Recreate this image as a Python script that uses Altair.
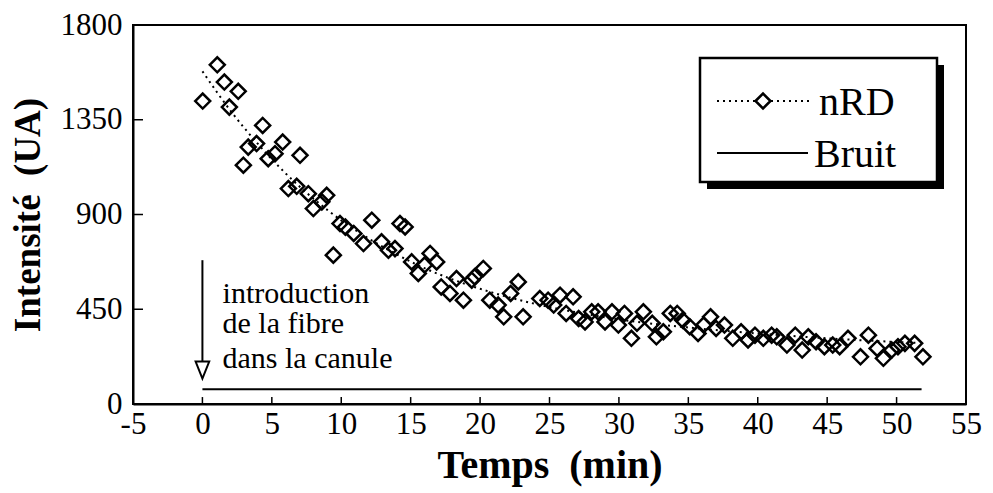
import altair as alt
import pandas as pd

# ---- data ----
time_nrd = [0.02, 1.07, 1.58, 1.94, 2.58, 2.95, 3.3, 3.9, 4.34, 4.74, 5.23, 5.78, 6.19, 6.79,
            7.03, 7.63, 7.99, 8.6, 8.95, 9.43, 9.91, 10.3, 10.9, 11.6, 12.2, 12.9, 13.4, 13.87,
            14.23, 14.6, 15.07, 15.55, 16.0, 16.4, 16.87, 17.2, 17.83, 18.3, 18.8, 19.4, 19.6,
            20.23, 20.7, 21.3, 21.7, 22.2, 22.75, 23.1, 24.3, 24.9, 25.3, 25.76, 26.2, 26.7,
            27.1, 27.56, 28.04, 28.5, 29.0, 29.5, 29.96, 30.4, 30.9, 31.3, 31.76, 32.4, 32.7,
            33.2, 33.7, 34.2, 34.6, 35.1, 35.7, 36.1, 36.6, 37.0, 37.6, 38.2, 38.8, 39.3, 39.8,
            40.4, 41.0, 41.37, 42.1, 42.7, 43.2, 43.64, 44.2, 44.8, 45.4, 45.9, 46.5, 47.4,
            47.97, 48.6, 49.05, 49.65, 50.1, 50.6, 51.3, 51.9]
intensity_nrd = [1439, 1611, 1529, 1410, 1485, 1134, 1220, 1237, 1323, 1165, 1189, 1244, 1023, 1034,
                 1181, 999, 928, 960, 991, 707, 857, 840, 810, 762, 873, 770, 730, 738,
                 857, 841, 675, 620, 660, 715, 675, 556, 525, 596, 493, 588, 604,
                 644, 493, 470, 414, 525, 580, 414, 501, 493, 470, 517, 430, 509,
                 406, 390, 438, 438, 390, 438, 375, 430, 312, 383, 438, 383, 319,
                 343, 430, 430, 398, 367, 335, 375, 414, 359, 375, 312, 343, 304, 327,
                 312, 327, 319, 280, 327, 256, 319, 296, 272, 280, 272, 312, 224,
                 327, 264, 217, 256, 272, 288, 288, 224]

fit_time = [0, 2, 4, 6, 8, 10, 12, 14, 16, 18, 20, 22, 24, 26, 28, 30, 33, 36, 40, 45, 51.5]
fit_intensity = [1580, 1395, 1235, 1095, 975, 872, 785, 710, 645, 592, 547, 508, 475, 447,
                 423, 402, 377, 357, 335, 312, 290]

bruit_time = [0, 51.8]
bruit_intensity = [70, 70]

x_ticks = [-5, 0, 5, 10, 15, 20, 25, 30, 35, 40, 45, 50, 55]
y_ticks = [0, 450, 900, 1350, 1800]

annotation_lines = ["introduction", "de la fibre", "dans la canule"]
annotation_y = [479, 337, 171]
annotation_x = 1.45
arrow_top = 683
arrow_end = 199
arrow_head = 161

legend_labels = ["nRD", "Bruit"]

SERIF = "Liberation Serif"
W, H = 833, 379

xs = alt.Scale(domain=[-5, 55], nice=False, zero=False)
ys = alt.Scale(domain=[0, 1800], nice=False, zero=False)

df_pts = pd.DataFrame({"t": time_nrd, "v": intensity_nrd})
df_fit = pd.DataFrame({"t": fit_time, "v": fit_intensity})
df_bruit = pd.DataFrame({"t": bruit_time, "v": bruit_intensity})

X = alt.X("t:Q", scale=xs,
          axis=alt.Axis(values=x_ticks, title="Temps \u00a0(min)", ticks=False, tickSize=0,
                        grid=False, labelPadding=5, domainWidth=2, domainColor="black",
                        titleX=W / 2, titleY=61, titleBaseline="middle", titleAnchor="middle",
                        titleFontSize=40, format="d",
                        labelExpr="replace(datum.label, '\u2212', '-')"))
Y = alt.Y("v:Q", scale=ys,
          axis=alt.Axis(values=y_ticks, title="Intensité \u00a0(UA)", ticks=False, tickSize=0,
                        grid=False, labelPadding=11, domainWidth=2, domainColor="black",
                        titleX=-105, titleY=H / 2, titleBaseline="middle", titleAngle=-90,
                        titleAnchor="middle", titleFontSize=37, format="d"))

fit = alt.Chart(df_fit).mark_line(color="black", strokeWidth=2, strokeDash=[2, 4],
                                  interpolate="monotone").encode(x=X, y=Y)
pts = alt.Chart(df_pts).mark_point(shape="diamond", size=225, filled=False, color="black",
                                   strokeWidth=2.5, opacity=1).encode(x="t:Q", y="v:Q")
bruit = alt.Chart(df_bruit).mark_line(color="black", strokeWidth=2).encode(x="t:Q", y="v:Q")

# inward ticks
df_xt = pd.DataFrame({"t": x_ticks[1:-1]})
xt = alt.Chart(df_xt).mark_rule(color="black", strokeWidth=1.5).encode(
    x="t:Q", y=alt.datum(0), y2=alt.datum(33))
df_yt = pd.DataFrame({"v": y_ticks[1:-1]})
yt = alt.Chart(df_yt).mark_rule(color="black", strokeWidth=1.5).encode(
    y="v:Q", x=alt.datum(-5), x2=alt.datum(-4.28))

# annotation arrow and text
df_arrow = pd.DataFrame({"t": [0], "a": [arrow_top], "b": [arrow_end], "h": [arrow_head]})
arrow_line = alt.Chart(df_arrow).mark_rule(color="black", strokeWidth=2).encode(
    x="t:Q", y="a:Q", y2="b:Q")
arrow_tip = alt.Chart(df_arrow).mark_point(shape="M-0.8,-1L0.8,-1L0,1Z", size=289,
                                           filled=True, fill="white", stroke="black",
                                           strokeWidth=2, opacity=1).encode(x="t:Q", y="h:Q")
df_ann = pd.DataFrame({"t": [annotation_x] * 3, "v": annotation_y, "s": annotation_lines})
ann = alt.Chart(df_ann).mark_text(font=SERIF, fontSize=30, align="left",
                                  baseline="alphabetic", color="black").encode(
    x="t:Q", y="v:Q", text="s:N")

# legend box (pixel positions within the plot)
one = pd.DataFrame({"k": [0]})
shadow = alt.Chart(one).mark_rect(color="black").encode(
    x=alt.value(574), x2=alt.value(811), y=alt.value(40), y2=alt.value(164))
box = alt.Chart(one).mark_rect(fill="white", stroke="black", strokeWidth=2.5).encode(
    x=alt.value(567), x2=alt.value(804), y=alt.value(33), y2=alt.value(157))
leg_dot = alt.Chart(one).mark_rule(color="black", strokeWidth=2, strokeDash=[2, 4]).encode(
    x=alt.value(584), x2=alt.value(679), y=alt.value(76))
leg_dia = alt.Chart(one).mark_point(shape="diamond", size=225, filled=True, fill="white",
                                    stroke="black", strokeWidth=2.5, opacity=1).encode(
    x=alt.value(630), y=alt.value(76))
leg_solid = alt.Chart(one).mark_rule(color="black", strokeWidth=2).encode(
    x=alt.value(584), x2=alt.value(675), y=alt.value(128))
df_leg = pd.DataFrame({"s": legend_labels, "py": [78, 130], "px": [686, 681]})
leg_txt = alt.Chart(df_leg).mark_text(font=SERIF, fontSize=40, align="left",
                                      baseline="middle", color="black").encode(
    x=alt.X("px:Q", scale=None), y=alt.Y("py:Q", scale=None), text="s:N")

chart = alt.layer(
    fit, pts, bruit, xt, yt, arrow_line, arrow_tip, ann,
    shadow, box, leg_dot, leg_dia, leg_solid, leg_txt
).properties(
    width=W, height=H,
    autosize=alt.AutoSizeParams(type="none"),
    padding={"left": 125, "top": 17, "right": 18, "bottom": 88},
    background="white",
).configure_view(
    stroke="black", strokeWidth=2
).configure_axis(
    labelFont=SERIF, labelFontSize=31, labelColor="black",
    titleFont=SERIF, titleFontWeight="bold", titleColor="black",
    labelFlush=False, labelOverlap=False
)

chart.save("out.html", embed_options={"renderer": "svg", "actions": False})
